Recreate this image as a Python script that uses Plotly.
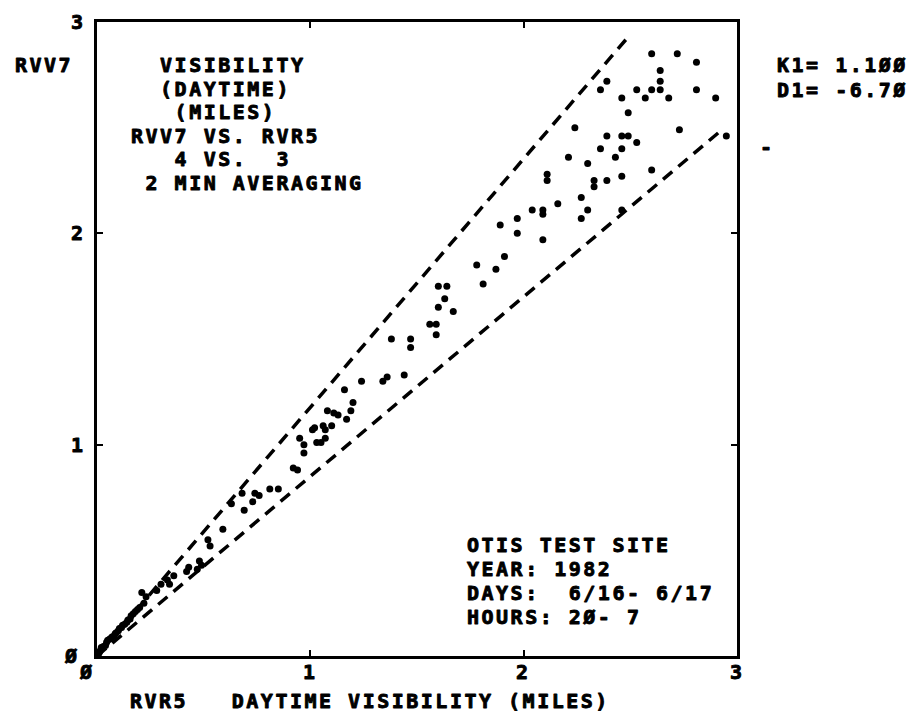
import plotly.graph_objects as go

# Paired 2-minute averages (miles): RVR5 on x, RVV7 on y
RVR5 = [
    2.60, 2.72, 2.81, 2.64, 2.64, 2.39, 2.36, 2.53, 2.60, 2.64, 2.81, 2.46, 2.57, 2.68,
    2.90, 2.49, 2.24, 2.73, 2.39, 2.46, 2.49, 2.53, 2.36, 2.46, 2.43, 2.21, 2.30, 2.11,
    2.11, 2.39, 2.46, 2.60, 2.33, 2.33, 2.27, 2.16, 2.04, 2.09, 2.09, 2.30, 2.46, 2.27,
    1.97, 1.97, 2.09, 1.89, 2.95,
    1.91, 1.78, 1.87, 1.81, 1.60, 1.64, 1.63, 1.60, 1.67, 1.56, 1.59, 1.59, 1.38, 1.47,
    1.47,
    1.24, 1.34, 1.36, 1.44, 1.16, 1.20, 1.19, 1.17, 1.08, 1.11, 1.13, 1.10, 1.06, 1.01,
    1.02, 1.07, 1.07, 0.95, 1.03, 1.05, 0.97, 0.97, 0.92, 0.94, 0.81, 0.85, 0.74, 0.76,
    0.73, 0.69, 0.68, 0.63, 0.59,
    0.52, 0.53, 0.48, 0.49, 0.47, 0.43, 0.42, 0.36, 0.34, 0.33, 0.30, 0.28, 0.23, 0.21,
    0.22,
    0.20, 0.19, 0.18, 0.17, 0.16, 0.155, 0.145, 0.14, 0.13, 0.12, 0.115, 0.105, 0.10,
    0.09, 0.085, 0.08, 0.07, 0.06, 0.05, 0.045, 0.04, 0.03, 0.02, 0.015, 0.01, 0.005,
]
RVV7 = [
    2.85, 2.85, 2.81, 2.77, 2.72, 2.72, 2.68, 2.68, 2.68, 2.68, 2.68, 2.64, 2.64, 2.64,
    2.64, 2.57, 2.50, 2.49, 2.46, 2.46, 2.46, 2.43, 2.40, 2.40, 2.36, 2.36, 2.33, 2.28,
    2.25, 2.25, 2.27, 2.30, 2.25, 2.22, 2.17, 2.14, 2.11, 2.11, 2.09, 2.11, 2.11, 2.07,
    2.07, 2.00, 1.97, 2.04, 2.46,
    1.89, 1.85, 1.83, 1.76, 1.75, 1.75, 1.69, 1.65, 1.63, 1.57, 1.57, 1.52, 1.50, 1.50,
    1.46,
    1.30, 1.30, 1.32, 1.33, 1.26, 1.20, 1.16, 1.12, 1.16, 1.15, 1.14, 1.09, 1.09, 1.07,
    1.08, 1.07, 1.03, 1.03, 1.01, 1.01, 1.00, 0.96, 0.89, 0.88, 0.79, 0.79, 0.77, 0.76,
    0.73, 0.69, 0.77, 0.72, 0.60,
    0.55, 0.52, 0.45, 0.43, 0.41, 0.42, 0.40, 0.38, 0.34, 0.36, 0.34, 0.31, 0.28, 0.30,
    0.25,
    0.23, 0.22, 0.21, 0.20, 0.19, 0.175, 0.17, 0.16, 0.15, 0.145, 0.135, 0.13, 0.12,
    0.11, 0.105, 0.095, 0.09, 0.08, 0.075, 0.065, 0.05, 0.045, 0.04, 0.025, 0.015, 0.005,
]

# Tolerance band: y = x / K and y = K * x, drawn out to BAND_END miles
BAND_K = 0.85
BAND_END = 2.94

X_TICK_VALS = [0, 1, 2, 3]
X_TICK_TEXT = ["Ø", "1", "2", "3"]
Y_TICK_VALS = [0, 1, 2, 3]
Y_TICK_TEXT = ["Ø", "1", "2", "3"]

TITLE_LINES = [
    "  VISIBILITY",
    "  (DAYTIME)",
    "   (MILES)",
    "RVV7 VS. RVR5",
    "   4 VS.  3",
    " 2 MIN AVERAGING",
]
SITE_LINES = [
    "OTIS TEST SITE",
    "YEAR: 1982",
    "DAYS:  6/16- 6/17",
    "HOURS: 2Ø- 7",
]
COEF_LINES = ["K1= 1.1ØØ", "D1= -6.7Ø"]
Y_LABEL = "RVV7"
X_LABEL = "RVR5   DAYTIME VISIBILITY (MILES)"

W, H = 912, 714
L, R, T, B = 97, 175, 22, 58
PW, PH = W - L - R, H - T - B

FONT = "DejaVu Sans Mono"
FSIZE = 20
SPACING = 2.5


def px_x(px):
    return (px - L) / PW


def px_y(py):
    return (H - B - py) / PH


def mono(s):
    s = s.replace(" ", "\u00a0")
    style = (f"letter-spacing:{SPACING}px;stroke:black;"
             "stroke-width:0.9px;stroke-linejoin:round")
    return f'<span style="{style}"><b>{s}</b></span>'


def label(text, x, y, xanchor="left", **kw):
    return dict(text=mono(text), x=x, y=y, xanchor=xanchor, yanchor="middle",
                showarrow=False, font=dict(family=FONT, size=FSIZE, color="black"),
                **kw)


fig = go.Figure()

ink = "black"
dash_line = dict(color=ink, width=3.5, dash="12px,8px")
up_x = [0, BAND_END * BAND_K]
lo_x = [0, BAND_END]
fig.add_trace(go.Scatter(x=up_x, y=[v / BAND_K for v in up_x], mode="lines",
                         line=dash_line, hoverinfo="skip"))
fig.add_trace(go.Scatter(x=lo_x, y=[v * BAND_K for v in lo_x], mode="lines",
                         line=dash_line, hoverinfo="skip"))
fig.add_trace(go.Scatter(x=RVR5, y=RVV7, mode="markers",
                         marker=dict(color=ink, size=7, line=dict(width=0)),
                         cliponaxis=False))

annotations = []
# y tick labels to the left of the frame
for v, t in zip(Y_TICK_VALS, Y_TICK_TEXT):
    annotations.append(label(t, 0, v, xanchor="center", xref="paper", yref="y",
                             xshift=-19 - (6 if v == 0 else 0)))
# x tick labels below the frame
for v, t in zip(X_TICK_VALS, X_TICK_TEXT):
    annotations.append(label(t, v, 0, xanchor="center", xref="x", yref="paper",
                             yshift=-16, xshift=(-10 if v == 0 else 0)))

annotations.append(label(Y_LABEL, px_x(13), px_y(65), xref="paper", yref="paper"))
annotations.append(label(X_LABEL, px_x(128), px_y(701), xref="paper", yref="paper"))

for i, line in enumerate(TITLE_LINES):
    annotations.append(label(line, px_x(129), px_y(65 + 23.5 * i),
                             xref="paper", yref="paper"))
for i, line in enumerate(SITE_LINES):
    annotations.append(label(line, px_x(465), px_y(545 + 24 * i),
                             xref="paper", yref="paper"))
for i, line in enumerate(COEF_LINES):
    annotations.append(label(line, px_x(775), px_y(65 + 24.5 * i),
                             xref="paper", yref="paper"))
annotations.append(label("-", px_x(767), px_y(147), xanchor="center",
                         xref="paper", yref="paper"))

axis_style = dict(range=[0, 3], showgrid=False, zeroline=False, showline=True,
                  linecolor=ink, linewidth=2.5, mirror="ticks", ticks="inside",
                  tickvals=[1, 2], ticklen=6, tickwidth=2, tickcolor=ink,
                  showticklabels=False, fixedrange=True)

fig.update_layout(
    width=W, height=H, autosize=False,
    margin=dict(l=L, r=R, t=T, b=B, pad=0),
    paper_bgcolor="white", plot_bgcolor="white",
    showlegend=False,
    xaxis=axis_style, yaxis=axis_style,
    annotations=annotations,
)

fig.write_html("out.html")
